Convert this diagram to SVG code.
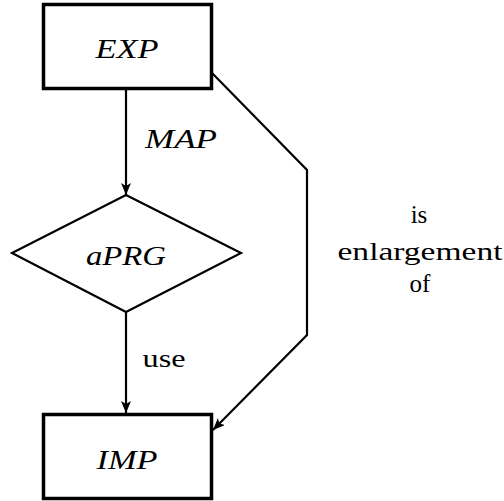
<svg xmlns="http://www.w3.org/2000/svg" width="504" height="501" viewBox="0 0 504 501">
  <style>
    .box { fill: #fff; stroke: #000; stroke-width: 3.5; }
    .dia { fill: #fff; stroke: #000; stroke-width: 2.2; }
    .edge { fill: none; stroke: #000; stroke-width: 2.2; }
    text { font-family: 'Liberation Serif', Tinos, 'Times New Roman', Times, 'Noto Serif', 'DejaVu Serif', serif; fill: #000; }
    .math { font-style: italic; font-size: 27px; }
    .rm { font-size: 25px; }
  </style>
  <defs>
    <marker id="arrow" viewBox="0 0 12 10" refX="12" refY="5" markerWidth="12" markerHeight="10" markerUnits="userSpaceOnUse" orient="auto">
      <path d="M0,0 L12,5 L0,10 L3,5 Z" fill="#000"/>
    </marker>
  </defs>

  <g id="connectors">
    <line class="edge" x1="126" y1="90" x2="126" y2="195" marker-end="url(#arrow)"/>
    <line class="edge" x1="126" y1="312" x2="126" y2="413" marker-end="url(#arrow)"/>
    <polyline class="edge" points="212,73 307,170 307,335 213,430" marker-end="url(#arrow)"/>
    <text class="math" x="181" y="148" text-anchor="middle" textLength="72" lengthAdjust="spacingAndGlyphs">MAP</text>
    <text class="rm" x="164" y="367" text-anchor="middle" textLength="43" lengthAdjust="spacingAndGlyphs">use</text>
    <text class="rm" x="419" y="223" text-anchor="middle">is</text>
    <text class="rm" x="420" y="260" text-anchor="middle" textLength="165" lengthAdjust="spacingAndGlyphs">enlargement</text>
    <text class="rm" x="420" y="292" text-anchor="middle">of</text>
  </g>

  <g id="EXP">
    <rect class="box" x="43.5" y="4.5" width="168" height="84"/>
    <text class="math" x="127" y="58" text-anchor="middle" textLength="63" lengthAdjust="spacingAndGlyphs">EXP</text>
  </g>

  <g id="aPRG">
    <polygon class="dia" points="126,195 241,253 126,312 12,253"/>
    <text class="math" x="126" y="265" text-anchor="middle" textLength="80" lengthAdjust="spacingAndGlyphs">aPRG</text>
  </g>

  <g id="IMP">
    <rect class="box" x="43.5" y="414.5" width="168" height="84"/>
    <text class="math" x="127" y="469" text-anchor="middle" textLength="61" lengthAdjust="spacingAndGlyphs">IMP</text>
  </g>
</svg>
